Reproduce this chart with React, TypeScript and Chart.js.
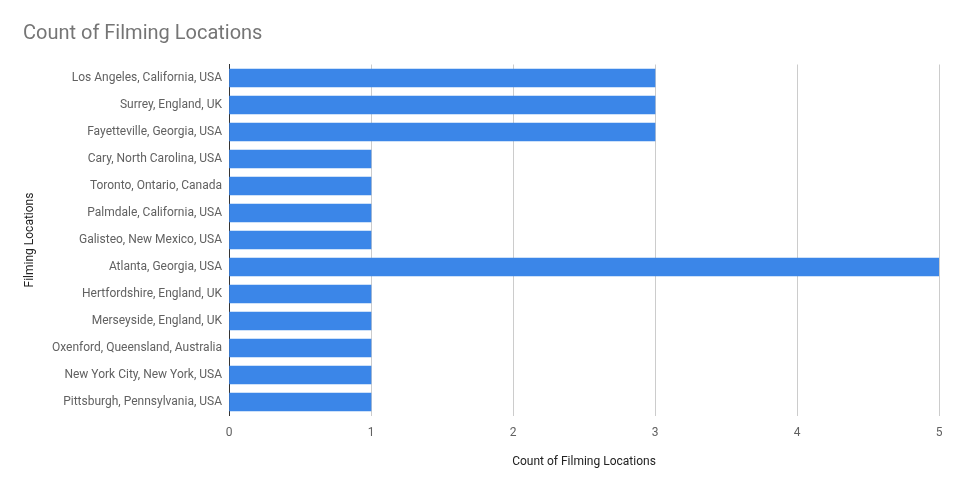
import React, { useEffect, useRef } from "react";
import { Chart, registerables } from "chart.js";

Chart.register(...registerables);

const categories = [
  "Los Angeles, California, USA",
  "Surrey, England, UK",
  "Fayetteville, Georgia, USA",
  "Cary, North Carolina, USA",
  "Toronto, Ontario, Canada",
  "Palmdale, California, USA",
  "Galisteo, New Mexico, USA",
  "Atlanta, Georgia, USA",
  "Hertfordshire, England, UK",
  "Merseyside, England, UK",
  "Oxenford, Queensland, Australia",
  "New York City, New York, USA",
  "Pittsburgh, Pennsylvania, USA",
];
const counts = [3, 3, 3, 1, 1, 1, 1, 5, 1, 1, 1, 1, 1];

const chartTitle = "Count of Filming Locations";
const xTitle = "Count of Filming Locations";
const yTitle = "Filming Locations";

export default function App() {
  const ref = useRef<HTMLCanvasElement | null>(null);
  useEffect(() => {
    if (!ref.current) return;
    const font = "Roboto, 'Noto Sans', Arial, sans-serif";
    const chart = new Chart(ref.current, {
      type: "bar",
      data: {
        labels: categories,
        datasets: [
          {
            label: xTitle,
            data: counts,
            backgroundColor: "#3b86e8",
            barThickness: 18,
            categoryPercentage: 1,
          },
        ],
      },
      options: {
        indexAxis: "y",
        animation: false,
        responsive: false,
        maintainAspectRatio: false,
        layout: { padding: { left: 23, right: 23, top: 0, bottom: 0 } },
        plugins: {
          legend: { display: false },
          tooltip: { enabled: false },
          title: {
            display: true,
            text: chartTitle,
            align: "start",
            color: "#757575",
            font: { family: font, size: 20, weight: "normal" },
            padding: { top: 22, bottom: 18.5 },
          },
        },
        scales: {
          x: {
            min: 0,
            max: 5,
            ticks: {
              stepSize: 1,
              color: "#616161",
              font: { family: font, size: 12 },
              padding: 10,
            },
            grid: {
              drawTicks: false,
              color: (ctx: any) => (ctx.tick && ctx.tick.value === 0 ? "rgba(0,0,0,0)" : "#cccccc"),
            },
            border: { display: false },
            title: {
              display: true,
              text: xTitle,
              color: "#222222",
              font: { family: font, size: 12 },
              padding: { top: 0, bottom: 20 },
            },
            afterFit: (scale: any) => {
              scale.height = 73.5;
            },
          },
          y: {
            ticks: {
              color: "#616161",
              font: { family: font, size: 12 },
              padding: 7,
            },
            grid: { display: false, drawTicks: false },
            border: { display: true, color: "#333333", width: 1 },
            title: {
              display: true,
              text: yTitle,
              color: "#222222",
              font: { family: font, size: 12 },
              padding: { top: 0, bottom: 0 },
            },
            afterFit: (scale: any) => {
              scale.width = 206;
            },
          },
        },
      },
    });
    return () => chart.destroy();
  }, []);
  return (
    <div style={{ position: "absolute", left: 0, top: 0, width: 962, height: 489, background: "#fff" }}>
      <canvas ref={ref} width={962} height={489} style={{ width: 962, height: 489, display: "block" }} />
    </div>
  );
}
